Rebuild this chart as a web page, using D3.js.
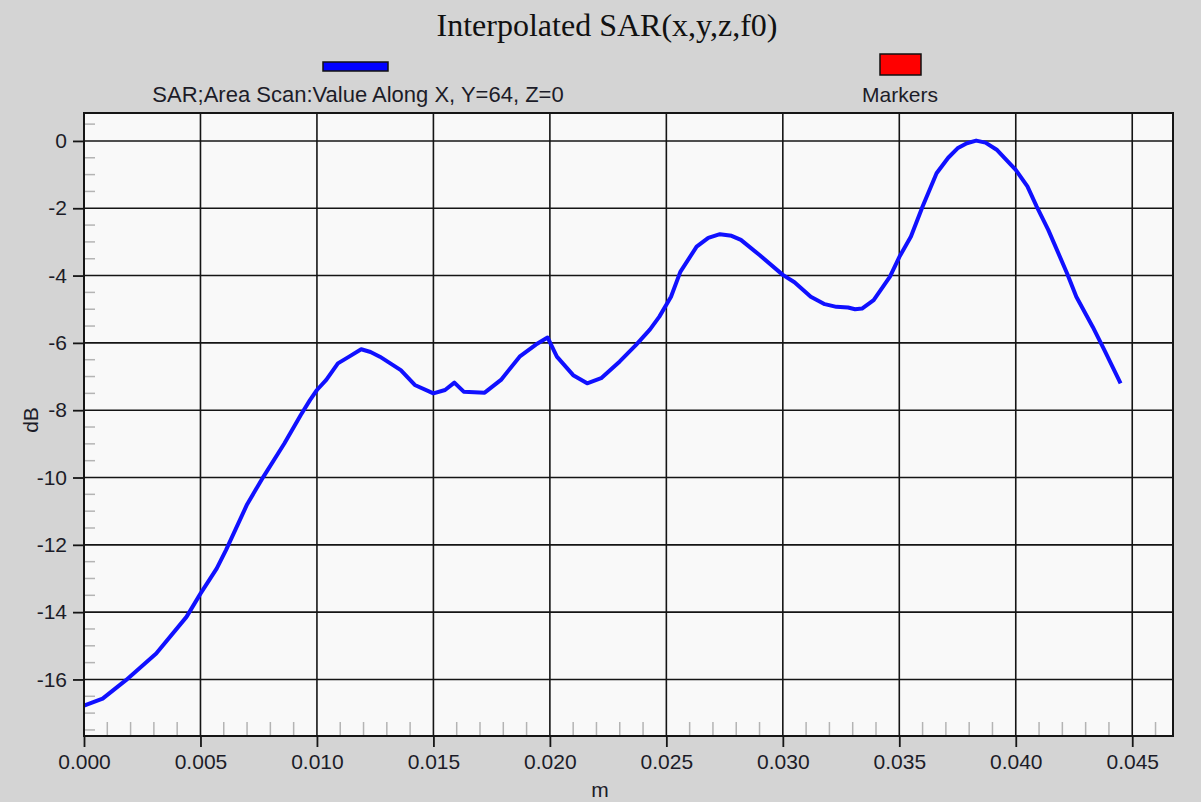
<!DOCTYPE html>
<meta charset="utf-8">
<html>
<head>
  <style>
    body { margin: 0; background: #d4d4d4; }
    svg { display: block; }
    .tick-label { font-family: "Liberation Sans", Arial, sans-serif; font-size: 21px; fill: #1c1c28; }
  </style>
</head>
<body>
<script src="https://d3js.org/d3.v7.min.js"></script>
<script>

// data
var posM = [0.0000, 0.0008, 0.0018, 0.0031, 0.0044, 0.0050, 0.0057, 0.0061, 0.0070, 0.0077,
            0.0086, 0.0093, 0.0097, 0.0100, 0.0104, 0.0109, 0.0114, 0.0119, 0.0123, 0.0127,
            0.0136, 0.0142, 0.0150, 0.0155, 0.0159, 0.0163, 0.0172, 0.0179, 0.0187, 0.0194,
            0.0199, 0.0203, 0.0210, 0.0216, 0.0222, 0.0230, 0.0237, 0.0243, 0.0247, 0.0252,
            0.0256, 0.0263, 0.0268, 0.0273, 0.0278, 0.0282, 0.0290, 0.0300, 0.0305, 0.0312,
            0.0318, 0.0323, 0.0328, 0.0331, 0.0334, 0.0339, 0.0346, 0.0350, 0.0355, 0.0360,
            0.0366, 0.0371, 0.0375, 0.0379, 0.0383, 0.0387, 0.0392, 0.0400, 0.0405, 0.0409,
            0.0414, 0.0422, 0.0426, 0.0433, 0.0438, 0.0445];
var sarDb = [-16.78, -16.57, -16.02, -15.23, -14.14, -13.45, -12.70, -12.15, -10.80, -9.98,
             -8.99, -8.15, -7.70, -7.40, -7.10, -6.61, -6.40, -6.19, -6.27, -6.41,
             -6.81, -7.25, -7.50, -7.40, -7.18, -7.45, -7.48, -7.10, -6.41, -6.05,
             -5.84, -6.41, -6.96, -7.20, -7.05, -6.55, -6.06, -5.60, -5.22, -4.63,
             -3.89, -3.14, -2.88, -2.77, -2.82, -2.94, -3.39, -3.98, -4.20, -4.63,
             -4.85, -4.93, -4.95, -5.00, -4.98, -4.73, -4.03, -3.45, -2.84, -1.95,
             -0.96, -0.50, -0.22, -0.07, 0.01, -0.05, -0.27, -0.86, -1.35, -1.95,
             -2.65, -3.93, -4.63, -5.52, -6.21, -7.20];

var xTicks = [0, 0.005, 0.010, 0.015, 0.020, 0.025, 0.030, 0.035, 0.040, 0.045];
var yTicks = [-16, -14, -12, -10, -8, -6, -4, -2, 0];

var titleText = "Interpolated SAR(x,y,z,f0)";
var seriesName = "SAR;Area Scan:Value Along X, Y=64, Z=0";
var markerName = "Markers";

var W = 1201, H = 802;
var plot = {left: 84, top: 113, right: 1173, bottom: 736};

var svg = d3.select("body").append("svg")
  .attr("width", W)
  .attr("height", H);

svg.append("rect")
  .attr("width", W).attr("height", H)
  .attr("fill", "#d4d4d4");

var x = d3.scaleLinear()
  .domain([0, 0.04675])
  .range([plot.left, plot.right]);

var y = d3.scaleLinear()
  .domain([-17.68, 0.83])
  .range([plot.bottom, plot.top]);

// plot background
svg.append("rect")
  .attr("x", plot.left).attr("y", plot.top)
  .attr("width", plot.right - plot.left)
  .attr("height", plot.bottom - plot.top)
  .attr("fill", "#f9f9f9");

// minor ticks (inside, grey)
var yMinor = d3.range(-35, 2).map(function(d) { return d / 2; })
  .filter(function(d) { return d % 2 !== 0; });
var xMinor = d3.range(1, 47).map(function(d) { return d / 1000; })
  .filter(function(d, i) { return (i + 1) % 5 !== 0; });

svg.append("g").selectAll("line")
  .data(yMinor)
  .enter().append("line")
  .attr("x1", plot.left).attr("x2", plot.left + 11)
  .attr("y1", function(d) { return y(d); })
  .attr("y2", function(d) { return y(d); })
  .attr("stroke", "#b4b4b4")
  .attr("stroke-width", 1.5);

svg.append("g").selectAll("line")
  .data(xMinor)
  .enter().append("line")
  .attr("x1", function(d) { return x(d); })
  .attr("x2", function(d) { return x(d); })
  .attr("y1", plot.bottom).attr("y2", plot.bottom - 14)
  .attr("stroke", "#b4b4b4")
  .attr("stroke-width", 1.5);

// gridlines
svg.append("g").selectAll("line")
  .data(xTicks)
  .enter().append("line")
  .attr("x1", function(d) { return x(d); })
  .attr("x2", function(d) { return x(d); })
  .attr("y1", plot.top).attr("y2", plot.bottom)
  .attr("stroke", "#151515")
  .attr("stroke-width", 1.6);

svg.append("g").selectAll("line")
  .data(yTicks)
  .enter().append("line")
  .attr("x1", plot.left).attr("x2", plot.right)
  .attr("y1", function(d) { return y(d); })
  .attr("y2", function(d) { return y(d); })
  .attr("stroke", "#151515")
  .attr("stroke-width", 1.6);

// axes with outside major ticks
var xAxis = d3.axisBottom(x)
  .tickValues(xTicks)
  .tickSize(11)
  .tickPadding(7)
  .tickFormat(d3.format(".3f"));

var yAxis = d3.axisLeft(y)
  .tickValues(yTicks)
  .tickSize(11)
  .tickPadding(6)
  .tickFormat(function(d) { return String(d); });  // plain hyphen minus

var gx = svg.append("g")
  .attr("transform", "translate(0," + plot.bottom + ")")
  .call(xAxis);
var gy = svg.append("g")
  .attr("transform", "translate(" + plot.left + ",0)")
  .call(yAxis);

[gx, gy].forEach(function(g) {
  g.attr("font-size", null).attr("font-family", null);
  g.select(".domain").remove();
  g.selectAll(".tick line").attr("stroke", "#151515").attr("stroke-width", 1.8);
  g.selectAll(".tick text").attr("class", "tick-label").attr("fill", null);
});

// the series
var line = d3.line()
  .x(function(d) { return x(d[0]); })
  .y(function(d) { return y(d[1]); });

svg.append("path")
  .datum(d3.zip(posM, sarDb))
  .attr("d", line)
  .attr("fill", "none")
  .attr("stroke", "#1010ff")
  .attr("stroke-width", 4)
  .attr("stroke-linejoin", "round");

// plot frame
svg.append("rect")
  .attr("x", plot.left).attr("y", plot.top)
  .attr("width", plot.right - plot.left)
  .attr("height", plot.bottom - plot.top)
  .attr("fill", "none")
  .attr("stroke", "#151515")
  .attr("stroke-width", 2);

// title
svg.append("text")
  .text(titleText)
  .attr("x", 607).attr("y", 36)
  .attr("text-anchor", "middle")
  .style("font-family", "'Liberation Serif', 'Times New Roman', serif")
  .style("font-size", "32px")
  .attr("fill", "#111");

// legend
svg.append("rect")
  .attr("x", 323).attr("y", 62)
  .attr("width", 65).attr("height", 9)
  .attr("fill", "#0000ff")
  .attr("stroke", "#111").attr("stroke-width", 1.5);

svg.append("text")
  .text(seriesName)
  .attr("x", 358).attr("y", 102)
  .attr("text-anchor", "middle")
  .attr("class", "tick-label")
  .style("font-size", "22px");

svg.append("rect")
  .attr("x", 880).attr("y", 54)
  .attr("width", 41).attr("height", 21)
  .attr("fill", "#ff0000")
  .attr("stroke", "#111").attr("stroke-width", 1.5);

svg.append("text")
  .text(markerName)
  .attr("x", 900).attr("y", 102)
  .attr("text-anchor", "middle")
  .attr("class", "tick-label");

// axis titles
svg.append("text")
  .text("m")
  .attr("x", 600).attr("y", 797)
  .attr("text-anchor", "middle")
  .attr("class", "tick-label");

svg.append("text")
  .text("dB")
  .attr("transform", "translate(38,420) rotate(-90)")
  .attr("text-anchor", "middle")
  .attr("class", "tick-label");

</script>
</body>
</html>
